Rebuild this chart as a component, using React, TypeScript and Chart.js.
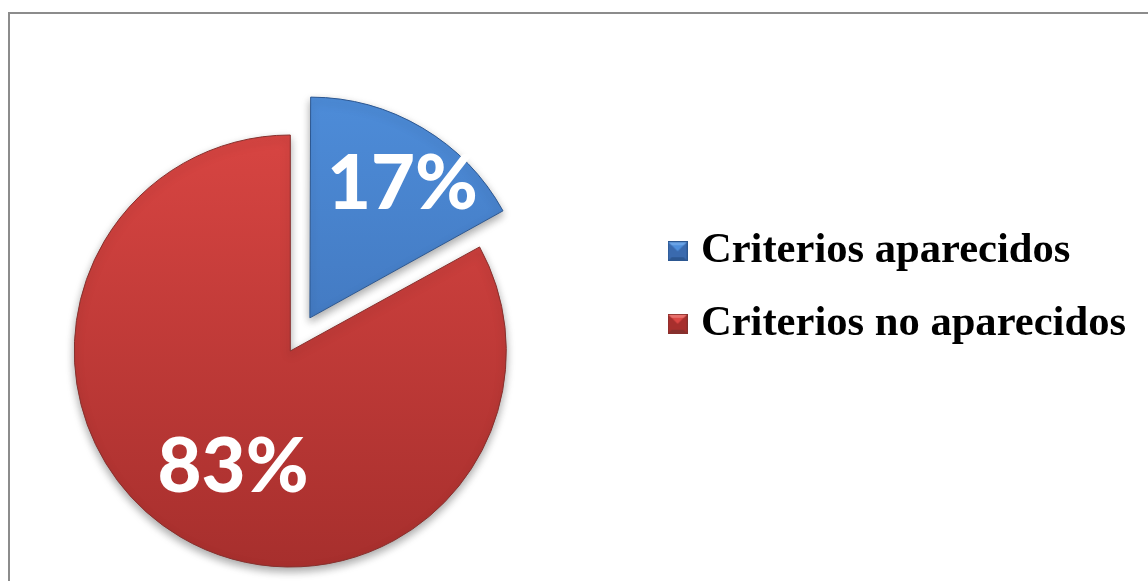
import { useEffect, useRef } from 'react';
import { Chart, registerables } from 'chart.js';

Chart.register(...registerables);

const categories = ['Criterios aparecidos', 'Criterios no aparecidos'];
const values = [17, 83];
const percentLabels = ['17%', '83%'];

const topColors = ['#4f8fdc', '#dc4744'];
const bottomColors = ['#3a6aae', '#a72f2d'];
const edgeColors = ['#2c5791', '#87302d'];

function makeBoxImage(i: number): HTMLCanvasElement {
  const c = document.createElement('canvas');
  const s = 20;
  c.width = s;
  c.height = s;
  const g = c.getContext('2d')!;
  const b = 4;
  g.fillStyle = bottomColors[i];
  g.fillRect(0, 0, s, s);
  g.fillStyle = topColors[i];
  g.beginPath();
  g.moveTo(0, 0); g.lineTo(s, 0); g.lineTo(s / 2, s / 2); g.closePath();
  g.fill();
  g.fillStyle = i === 0 ? '#6aa3e6' : '#e8706c';
  g.beginPath();
  g.moveTo(0, 0); g.lineTo(s, 0); g.lineTo(s - b, b); g.lineTo(b, b); g.closePath();
  g.fill();
  g.fillStyle = i === 0 ? '#2c5791' : '#86302d';
  g.beginPath();
  g.moveTo(0, s); g.lineTo(s, s); g.lineTo(s - b, s - b); g.lineTo(b, s - b); g.closePath();
  g.fill();
  g.strokeStyle = edgeColors[i];
  g.lineWidth = 1;
  g.strokeRect(0.5, 0.5, s - 1, s - 1);
  return c;
}

const pieDecor = {
  id: 'pieDecor',
  beforeDatasetsDraw(chart: any) {
    const c = chart.ctx;
    c.save();
    c.shadowColor = 'rgba(0,0,0,0.35)';
    c.shadowBlur = 8;
    c.shadowOffsetY = 4;
  },
  afterDatasetsDraw(chart: any, _args: any, opts: any) {
    const c = chart.ctx;
    c.restore();
    const meta = chart.getDatasetMeta(0);
    c.save();
    c.fillStyle = '#ffffff';
    c.textAlign = 'center';
    c.textBaseline = 'alphabetic';
    c.font = `900 ${opts.fontSize}px Lato`;
    meta.data.forEach((arc: any, i: number) => {
      const p = arc.getProps(['x', 'y', 'startAngle', 'endAngle', 'outerRadius', 'circumference']);
      const off = (arc.options.offset || 0) / 4;
      const half = (p.startAngle + p.endAngle) / 2;
      const fix = 1 - Math.sin(Math.min(Math.PI, p.circumference || 0));
      const shift = off + off * fix;
      const a = half + (opts.angleShift[i] * Math.PI) / 180;
      const r = opts.radiusFrac[i] * p.outerRadius;
      const px = p.x + Math.cos(half) * shift + Math.cos(a) * r;
      const py = p.y + Math.sin(half) * shift + Math.sin(a) * r;
      c.fillText(percentLabels[i], px, py + opts.fontSize * 0.358);
    });
    c.restore();
  },
};

export default function App() {
  const ref = useRef<HTMLCanvasElement>(null);
  useEffect(() => {
    if (!ref.current) return;
    const boxImages = [makeBoxImage(0), makeBoxImage(1)];
    const fill = (ctx: any) => {
      const i = ctx.dataIndex;
      const chart = ctx.chart;
      const area = chart.chartArea;
      if (!area) return topColors[i];
      const cy = (area.top + area.bottom) / 2;
      const g = chart.ctx.createLinearGradient(0, cy - 260, 0, cy + 216);
      g.addColorStop(0, topColors[i]);
      g.addColorStop(1, bottomColors[i]);
      return g;
    };
    const chart = new Chart(ref.current, {
      type: 'pie',
      data: {
        labels: categories,
        datasets: [
          {
            data: values,
            backgroundColor: fill,
            borderColor: edgeColors,
            borderWidth: 1,
            offset: [154, 0],
            hoverOffset: 0,
          },
        ],
      },
      options: {
        animation: false,
        responsive: true,
        maintainAspectRatio: false,
        radius: 216,
        events: [],
        layout: { padding: { top: 0, bottom: 20, left: 0, right: 12 } },
        plugins: {
          tooltip: { enabled: false },
          title: {
            display: true,
            text: ' ',
            position: 'top',
            fullSize: false,
            font: { size: 12, lineHeight: 1 },
            padding: { top: 115, bottom: 0 },
          },
          subtitle: {
            display: true,
            text: ' ',
            position: 'right',
            fullSize: false,
            weight: 500,
            font: { size: 12, lineHeight: 1 },
            padding: { top: 63, bottom: 0 },
          },
          legend: {
            position: 'right',
            align: 'center',
            maxWidth: 800,
            labels: {
              usePointStyle: true,
              pointStyleWidth: 4,
              padding: 30,
              color: '#000000',
              font: { family: 'Liberation Serif', size: 42.6, weight: 'bold' },
              generateLabels: () =>
                categories.map((t, i) => ({
                  text: t,
                  fillStyle: topColors[i],
                  strokeStyle: edgeColors[i],
                  lineWidth: 0,
                  pointStyle: boxImages[i],
                  hidden: false,
                  index: i,
                })),
            },
          },
          pieDecor: {
            fontSize: 76,
            radiusFrac: [0.74, 0.588],
            angleShift: [3.7, -3.8],
          },
        } as any,
      },
      plugins: [pieDecor],
    });
    return () => chart.destroy();
  }, []);

  return (
    <div
      style={{
        position: 'fixed',
        left: 8,
        top: 12,
        width: 1140,
        height: 569,
        boxSizing: 'border-box',
        borderTop: '2px solid #8c8c8c',
        borderLeft: '2px solid #8c8c8c',
        background: '#ffffff',
      }}
    >
      <div style={{ position: 'relative', width: 1138, height: 567 }}>
        <canvas ref={ref} />
      </div>
    </div>
  );
}
